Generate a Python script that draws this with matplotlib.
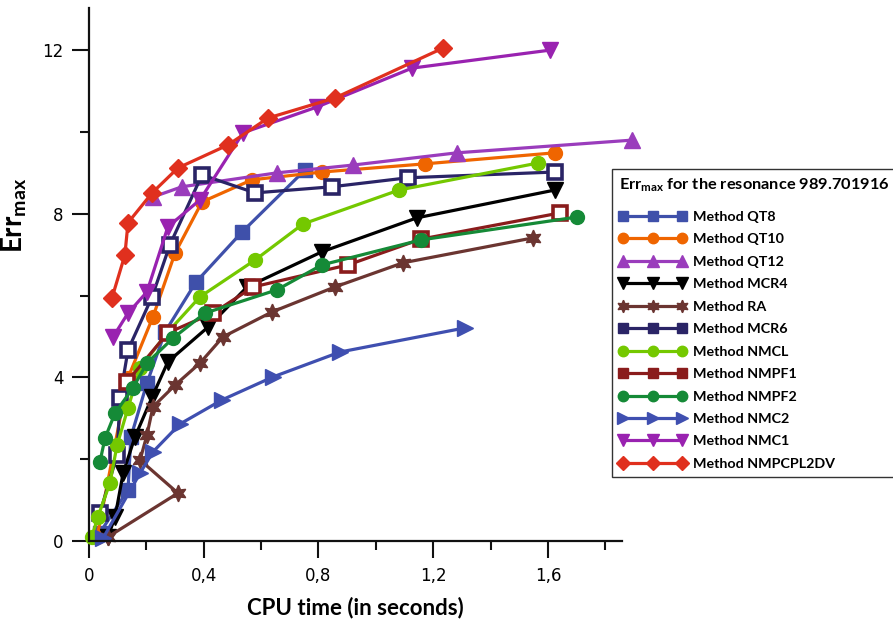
import matplotlib
matplotlib.use("Agg")
import matplotlib.pyplot as plt
from matplotlib.lines import Line2D

plt.rcParams['mathtext.fontset'] = 'custom'
plt.rcParams['mathtext.rm'] = 'Lato:bold'
plt.rcParams['mathtext.it'] = 'Lato:bold'
plt.rcParams['mathtext.bf'] = 'Lato:bold'

# ---- data ----
qt8_x = [0.038, 0.136, 0.146, 0.202, 0.265, 0.373, 0.533, 0.753]
qt8_y = [0.20, 1.25, 2.54, 3.86, 5.11, 6.33, 7.55, 9.07]

qt10_x = [0.028, 0.136, 0.223, 0.300, 0.394, 0.568, 0.812, 1.171, 1.624]
qt10_y = [0.10, 3.99, 5.48, 7.04, 8.29, 8.83, 9.02, 9.22, 9.49]

qt12_x = [0.223, 0.324, 0.655, 0.920, 1.283, 1.893]
qt12_y = [8.41, 8.66, 9.00, 9.19, 9.49, 9.80]

mcr4_x = [0.066, 0.091, 0.119, 0.160, 0.220, 0.275, 0.415, 0.551, 0.812, 1.143, 1.624]
mcr4_y = [0.10, 0.59, 1.66, 2.54, 3.52, 4.38, 5.23, 6.21, 7.07, 7.90, 8.58]

ra_x = [0.066, 0.310, 0.178, 0.202, 0.223, 0.300, 0.387, 0.467, 0.638, 0.857, 1.094, 1.548]
ra_y = [0.10, 1.17, 1.98, 2.59, 3.28, 3.81, 4.35, 4.99, 5.60, 6.21, 6.80, 7.41]

mcr6_x = [0.038, 0.098, 0.108, 0.136, 0.220, 0.282, 0.394, 0.579, 0.847, 1.112, 1.624]
mcr6_y = [0.68, 2.10, 3.50, 4.67, 5.97, 7.24, 8.95, 8.51, 8.66, 8.88, 9.02]

nmcl_x = [0.010, 0.031, 0.073, 0.098, 0.136, 0.178, 0.275, 0.387, 0.579, 0.746, 1.081, 1.565]
nmcl_y = [0.10, 0.59, 1.42, 2.35, 3.25, 4.23, 5.11, 5.97, 6.87, 7.75, 8.58, 9.24]

nmpf1_x = [0.132, 0.275, 0.432, 0.572, 0.903, 1.157, 1.642]
nmpf1_y = [3.89, 5.09, 5.57, 6.21, 6.75, 7.38, 8.02]

nmpf2_x = [0.038, 0.056, 0.091, 0.153, 0.202, 0.293, 0.404, 0.655, 0.812, 1.157, 1.701]
nmpf2_y = [1.93, 2.52, 3.13, 3.74, 4.35, 4.96, 5.57, 6.14, 6.75, 7.36, 7.92]

nmc2_x = [0.049, 0.178, 0.223, 0.317, 0.464, 0.641, 0.875, 1.311]
nmc2_y = [0.07, 1.66, 2.18, 2.86, 3.45, 4.01, 4.62, 5.21]

nmc1_x = [0.084, 0.136, 0.202, 0.275, 0.387, 0.537, 0.795, 1.126, 1.607]
nmc1_y = [4.99, 5.57, 6.09, 7.68, 8.34, 9.98, 10.61, 11.56, 12.00]

nmp_x = [0.080, 0.125, 0.136, 0.220, 0.310, 0.484, 0.624, 0.857, 1.234]
nmp_y = [5.94, 6.99, 7.78, 8.51, 9.12, 9.68, 10.34, 10.83, 12.05]

x_ticks = [0, 0.4, 0.8, 1.2, 1.6]
x_ticklabels = ['0', '0,4', '0,8', '1,2', '1,6']
x_minor = [0.2, 0.6, 1.0, 1.4, 1.8]
y_ticks = [0, 4, 8, 12]
y_ticklabels = ['0', '4', '8', '12']
y_minor = [2, 6, 10]

series = [
    ('Method QT8', qt8_x, qt8_y, '#3f50aa', 's', 10, None),
    ('Method QT10', qt10_x, qt10_y, '#ef6500', 'o', 10, None),
    ('Method QT12', qt12_x, qt12_y, '#9a3cbc', '^', 11, None),
    ('Method MCR4', mcr4_x, mcr4_y, '#000000', 'v', 11, None),
    ('Method RA', ra_x, ra_y, '#6b3531', (6, 1, 0), 12, None),
    ('Method MCR6', mcr6_x, mcr6_y, '#2a2466', 's', 10, 'white'),
    ('Method NMCL', nmcl_x, nmcl_y, '#74c800', 'o', 10, None),
    ('Method NMPF1', nmpf1_x, nmpf1_y, '#8a1c1c', 's', 10, 'white'),
    ('Method NMPF2', nmpf2_x, nmpf2_y, '#158a37', 'o', 10, None),
    ('Method NMC2', nmc2_x, nmc2_y, '#3f4fb0', '>', 11, None),
    ('Method NMC1', nmc1_x, nmc1_y, '#9922b0', 'v', 11, None),
    ('Method NMPCPL2DV', nmp_x, nmp_y, '#e0301e', 'D', 9, None),
]

fig = plt.figure(figsize=(8.93, 6.23), dpi=100)
ax = fig.add_axes([89 / 893, 1 - 541 / 623, (622 - 89) / 893, (541 - 8) / 623])

handles = []
for name, xs, ys, col, mk, ms, face in series:
    fc = col if face is None else face
    mew = 2.6 if face is not None else 1.0
    ax.plot(xs, ys, color=col, lw=2.3, marker=mk, ms=ms, mfc=fc, mec=col,
            mew=mew, clip_on=False)
    handles.append(Line2D([], [], color=col, lw=2.3, marker=mk,
                          ms=ms * 0.75, mfc=col, mec=col, mew=1.0, label=name))

ax.set_xlim(0, 1.858)
ax.set_ylim(0, 13.03)
ax.set_xticks(x_ticks)
ax.set_xticklabels(x_ticklabels)
ax.set_xticks(x_minor, minor=True)
ax.set_yticks(y_ticks)
ax.set_yticklabels(y_ticklabels)
ax.set_yticks(y_minor, minor=True)

for s in ['top', 'right']:
    ax.spines[s].set_visible(False)
for s in ['left', 'bottom']:
    ax.spines[s].set_linewidth(1.6)
    ax.spines[s].set_color('#111111')

ax.tick_params(which='major', length=12.5, width=1.5, labelsize=12,
               color='#111111', pad=6)
ax.tick_params(which='minor', length=6.5, width=1.5, color='#111111')
for lbl in ax.get_xticklabels() + ax.get_yticklabels():
    lbl.set_fontfamily('DejaVu Sans')

ax.set_xlabel('CPU time (in seconds)', fontsize=16, fontweight='bold',
              fontfamily='Lato', labelpad=8.5)
ax.set_ylabel(r'Err$_{\mathrm{max}}$', fontsize=20, fontweight='bold',
              fontfamily='Lato')
ax.yaxis.set_label_coords(-0.113, 0.61)

fs = 10.3
leg = fig.legend(handles=handles, loc='upper left',
                 bbox_to_anchor=(612 / 893, 1 - 169 / 623), borderaxespad=0,
                 numpoints=3, handlelength=4.7, handletextpad=0.45,
                 labelspacing=0.73, borderpad=0.5, fancybox=False,
                 edgecolor='#333333', framealpha=1,
                 title=r'Err$_{\mathrm{max}}$ for the resonance 989.701916',
                 prop={'family': 'Lato', 'weight': 'bold', 'size': fs},
                 title_fontproperties={'family': 'Lato', 'weight': 'bold', 'size': 11.8})
leg.get_frame().set_linewidth(1.0)
leg._legend_box.align = 'left'
leg._legend_box.sep = 12.5

fig.savefig('out.png', dpi=100)
